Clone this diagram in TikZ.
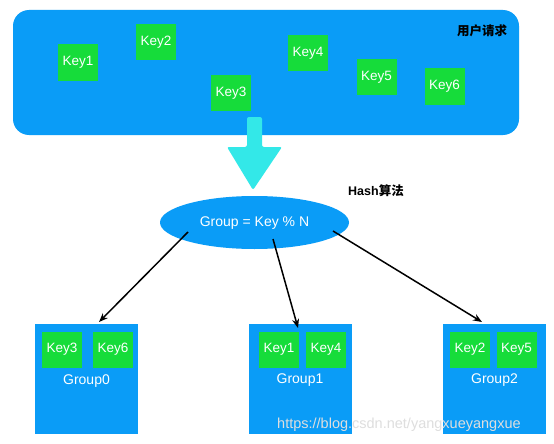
\documentclass[tikz,border=0pt]{standalone}
\usepackage{fontspec}
\setmainfont{Liberation Sans}
\newfontfamily\cjk{Noto Sans CJK SC}
\usetikzlibrary{arrows.meta,calc,shapes.geometric}
\definecolor{reqblue}{HTML}{0A9CF7}
\definecolor{keygreen}{HTML}{16DC3A}
\definecolor{hashcyan}{HTML}{33E8E8}
\tikzset{
  keybox/.style={fill=keygreen,draw=none,text=white,minimum width=40pt,minimum height=36pt,inner sep=0pt,font=\fontsize{13.5}{15}\selectfont},
  groupbox/.style={fill=reqblue,draw=none,minimum width=103pt,minimum height=110pt,inner sep=0pt},
  grouplabel/.style={text=white,font=\fontsize{14}{16}\selectfont,inner sep=0pt},
  cjklabel/.style={text=black,font=\bfseries\fontsize{12.5}{14}\selectfont,inner sep=0pt},
  link/.style={draw=black,line width=1.5pt,-{Stealth[length=9pt,width=7pt]}},
}
\begin{document}
\begin{tikzpicture}[x=1pt,y=-1pt]
\useasboundingbox (0,0) rectangle (554,444);
\fill[white] (0,0) rectangle (554,444);
% user request area
\node[fill=reqblue,rounded corners=16pt,minimum width=506pt,minimum height=125pt,inner sep=0pt] (req) at (266,72.5) {};
\node[cjklabel] (reqlabel) at (482,31) {\cjk\bfseries 用户请求};
\node[keybox] (k1) at (78,62.5) {Key1};
\node[keybox] (k2) at (156,42.5) {Key2};
\node[keybox] (k3) at (231,93) {Key3};
\node[keybox] (k4) at (308,53) {Key4};
\node[keybox] (k5) at (376.5,77) {Key5};
\node[keybox] (k6) at (444.5,86.5) {Key6};
% hash arrow
\fill[hashcyan,rounded corners=2pt] (247,117) -- (262,117) -- (262,147) -- (282,147) -- (253,190) -- (227,147) -- (247,147) -- cycle;
% ellipse
\node[fill=reqblue,draw=none,ellipse,minimum width=189pt,minimum height=53pt,inner sep=0pt] (hash) at (254.5,222.5) {};
\node[grouplabel] (hashtext) at (254.5,223) {Group = Key \% N};
\node[cjklabel,anchor=west] (hashlabel) at (348,191) {Hash{\cjk\bfseries 算法}};
% groups
\node[groupbox] (g0) at (86.5,379) {};
\node[groupbox] (g1) at (300,379) {};
\node[groupbox] (g2) at (494.5,379) {};
\node[keybox] (g0a) at (62,349.5) {Key3};
\node[keybox] (g0b) at (113,349.5) {Key6};
\node[keybox] (g1a) at (279,349.5) {Key1};
\node[keybox] (g1b) at (326,349.5) {Key4};
\node[keybox] (g2a) at (470,349.5) {Key2};
\node[keybox] (g2b) at (516.5,349.5) {Key5};
\node[grouplabel] (g0l) at (86.5,381) {Group0};
\node[grouplabel] (g1l) at (300,380) {Group1};
\node[grouplabel] (g2l) at (494.5,380) {Group2};
% connectors
\coordinate (s0) at (188,232);
\coordinate (s1) at (273,239);
\coordinate (s2) at (333,231);
\coordinate (t0) at (99,322);
\coordinate (t1) at (298,328);
\coordinate (t2) at (482,322);
\draw[link] (s0) -- (t0);
\draw[link] (s1) -- (t1);
\draw[link] (s2) -- (t2);
% watermark
\node[text=black!13,anchor=west,inner sep=0pt,font=\fontsize{14.5}{16}\selectfont] (wm) at (277,425) {https://blog.csdn.net/yangxueyangxue};
\end{tikzpicture}
\end{document}
